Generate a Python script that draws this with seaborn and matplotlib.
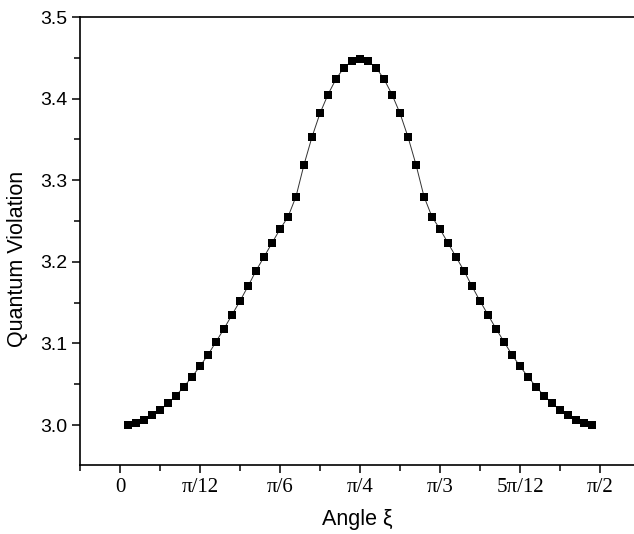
import numpy as np
import pandas as pd
import matplotlib
matplotlib.use('Agg')
import matplotlib.pyplot as plt
from matplotlib.ticker import FixedLocator, MultipleLocator
import seaborn as sns

sns.set_style('ticks')
plt.rcParams['font.family'] = ['Liberation Sans', 'DejaVu Sans']
plt.rcParams['text.color'] = 'black'
plt.rcParams['axes.labelcolor'] = 'black'

# angle xi in degrees (1.5 deg steps) and the read-off violation values
angle_deg = [1.5, 3.0, 4.5, 6.0, 7.5, 9.0, 10.5, 12.0, 13.5, 15.0,
             16.5, 18.0, 19.5, 21.0, 22.5, 24.0, 25.5, 27.0, 28.5, 30.0,
             31.5, 33.0, 34.5, 36.0, 37.5, 39.0, 40.5, 42.0, 43.5, 45.0,
             46.5, 48.0, 49.5, 51.0, 52.5, 54.0, 55.5, 57.0, 58.5, 60.0,
             61.5, 63.0, 64.5, 66.0, 67.5, 69.0, 70.5, 72.0, 73.5, 75.0,
             76.5, 78.0, 79.5, 81.0, 82.5, 84.0, 85.5, 87.0, 88.5]
violation = [3.000, 3.003, 3.006, 3.012, 3.018, 3.027, 3.036, 3.047, 3.059, 3.072,
             3.086, 3.102, 3.118, 3.135, 3.152, 3.170, 3.189, 3.206, 3.223, 3.240,
             3.255, 3.280, 3.319, 3.353, 3.382, 3.405, 3.424, 3.438, 3.446, 3.449,
             3.446, 3.438, 3.424, 3.405, 3.382, 3.353, 3.319, 3.280, 3.255, 3.240,
             3.223, 3.206, 3.189, 3.170, 3.152, 3.135, 3.118, 3.102, 3.086, 3.072,
             3.059, 3.047, 3.036, 3.027, 3.018, 3.012, 3.006, 3.003, 3.000]

xtick_labels = ['0', 'π/12', 'π/6', 'π/4', 'π/3', '5π/12', 'π/2']

df = pd.DataFrame({'xi': np.deg2rad(angle_deg), 'qv': violation})

fig = plt.figure(figsize=(6.34, 5.34), dpi=100)
ax = fig.add_axes([80 / 634, 1 - 465 / 534, 1 - 80 / 634, (465 - 17) / 534])

sns.lineplot(data=df, x='xi', y='qv', ax=ax, color='#333333', linewidth=0.7,
             marker='s', markersize=6.3, markerfacecolor='black',
             markeredgecolor='black', markeredgewidth=0)

ax.set_xlim(-np.pi / 24, -np.pi / 24 + 554 / 80 * np.pi / 12)
ax.set_ylim(3.0 - 40 / 816, 3.5)

ax.xaxis.set_major_locator(FixedLocator([k * np.pi / 12 for k in range(7)]))
ax.xaxis.set_minor_locator(FixedLocator([(2 * k - 1) * np.pi / 24 for k in range(8)]))
ax.set_xticklabels(xtick_labels, family=['Liberation Serif', 'DejaVu Serif'], fontsize=15)
ax.yaxis.set_major_locator(MultipleLocator(0.1))
ax.yaxis.set_minor_locator(MultipleLocator(0.05))
ax.yaxis.set_major_formatter(matplotlib.ticker.FormatStrFormatter('%.1f'))

ax.tick_params(axis='both', which='major', direction='out', length=6, width=1.1,
               color='black', labelcolor='black', pad=3)
ax.tick_params(axis='both', which='minor', direction='out', length=4, width=1.1,
               color='black')
ax.tick_params(axis='y', labelsize=14)

for side in ('left', 'bottom', 'top'):
    ax.spines[side].set_linewidth(1.2)
    ax.spines[side].set_color('black')
ax.spines['right'].set_visible(False)

ax.set_xlabel('Angle ξ', fontsize=15.5, labelpad=9)
ax.set_ylabel('Quantum Violation', fontsize=15.5)
ax.yaxis.set_label_coords(-0.094, 0.46)

fig.savefig('out.png', dpi=100)
